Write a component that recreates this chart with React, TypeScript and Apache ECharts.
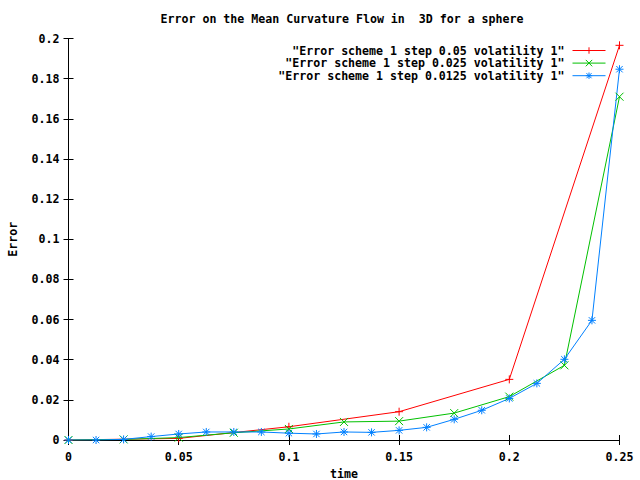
import React, { useEffect, useRef } from "react";
import * as echarts from "echarts";

const titleText = "Error on the Mean Curvature Flow in  3D for a sphere";
const seriesNames = [
  '"Error scheme 1 step 0.05 volatility 1"',
  '"Error scheme 1 step 0.025 volatility 1"',
  '"Error scheme 1 step 0.0125 volatility 1"',
];
const seriesColors = ["#ff0000", "#00c000", "#0080ff"];

const timeStep005 = [0, 0.05, 0.1, 0.15, 0.2, 0.25];
const errStep005 = [0, 0.0008, 0.0066, 0.0141, 0.0302, 0.1966];

const timeStep0025 = [0, 0.025, 0.05, 0.075, 0.1, 0.125, 0.15, 0.175, 0.2, 0.225, 0.25];
const errStep0025 = [0, 0.0003, 0.0012, 0.0036, 0.0055, 0.009, 0.0094, 0.0134, 0.0216, 0.0372, 0.171];

const timeStep00125 = [
  0, 0.0125, 0.025, 0.0375, 0.05, 0.0625, 0.075, 0.0875, 0.1, 0.1125, 0.125,
  0.1375, 0.15, 0.1625, 0.175, 0.1875, 0.2, 0.2125, 0.225, 0.2375, 0.25,
];
const errStep00125 = [
  0, 0, 0.0003, 0.0017, 0.003, 0.004, 0.004, 0.004, 0.0034, 0.003, 0.004,
  0.0038, 0.0048, 0.0063, 0.0103, 0.0148, 0.0207, 0.0282, 0.0402, 0.0596, 0.1847,
];

const xTicks = { min: 0, max: 0.25, interval: 0.05 };
const yTicks = { min: 0, max: 0.2, interval: 0.02 };

const symbols = [
  "path://M4,0V8M0,4H8",
  "path://M0,0L8,8M8,0L0,8",
  "path://M4,0V8M0,4H8M0.8,0.8L7.2,7.2M7.2,0.8L0.8,7.2",
];

const FONT = "DejaVu Sans Mono";

export default function App() {
  const ref = useRef<HTMLDivElement>(null);
  useEffect(() => {
    document.body.style.margin = "0";
    const chart = echarts.init(ref.current!, null, { renderer: "svg" });
    const xs = [timeStep005, timeStep0025, timeStep00125];
    const ys = [errStep005, errStep0025, errStep00125];
    const textStyle = { fontFamily: FONT, fontWeight: "bold" as const, fontSize: 11.6, color: "#000" };
    const axisLine = { show: true, lineStyle: { color: "#000", width: 1 } };
    const axisTick = { show: true, inside: true, length: 5, lineStyle: { color: "#000" } };
    chart.setOption({
      animation: false,
      backgroundColor: "#fff",
      title: {
        text: titleText,
        left: 342,
        top: 13,
        textAlign: "center",
        padding: 0,
        textStyle: { ...textStyle },
      },
      legend: seriesNames.map((n, i) => ({
        data: [n],
        orient: "vertical",
        align: "right",
        right: 34,
        top: 44.5 + i * 12.6,
        padding: 0,
        itemWidth: 33,
        itemHeight: 8,
        selectedMode: false,
        lineStyle: { width: 1 },
        itemStyle: { borderWidth: 1, color: "none", borderColor: seriesColors[i] },
        textStyle: { ...textStyle, padding: [0, 3, 0, 0] },
      })),
      grid: {
        left: 68.5,
        right: 20.5,
        top: 38.5,
        bottom: 40,
        containLabel: false,
        outerBoundsMode: "none",
      },
      xAxis: [
        {
          type: "value",
          ...xTicks,
          name: "time",
          nameLocation: "middle",
          nameGap: 27,
          nameTextStyle: { ...textStyle },
          axisLine,
          axisTick,
          splitLine: { show: false },
          axisLabel: { ...textStyle, margin: 11 },
        },
        {
          type: "value",
          position: "top",
          ...xTicks,
          axisLine,
          axisTick,
          splitLine: { show: false },
          axisLabel: { show: false },
        },
      ],
      yAxis: [
        {
          type: "value",
          ...yTicks,
          name: "Error",
          nameLocation: "middle",
          nameGap: 50,
          nameRotate: 90,
          nameTextStyle: { ...textStyle },
          axisLine,
          axisTick,
          splitLine: { show: false },
          axisLabel: { ...textStyle, margin: 9 },
        },
        {
          type: "value",
          position: "right",
          ...yTicks,
          axisLine,
          axisTick,
          splitLine: { show: false },
          axisLabel: { show: false },
        },
      ],
      series: seriesNames.map((n, i) => ({
        name: n,
        type: "line",
        data: xs[i].map((x, k) => [x, ys[i][k]]),
        symbol: symbols[i],
        symbolSize: 8,
        showSymbol: true,
        lineStyle: { color: seriesColors[i], width: 1 },
        itemStyle: { color: seriesColors[i], borderColor: seriesColors[i], borderWidth: 1 },
        emphasis: { disabled: true },
      })),
    });
    return () => chart.dispose();
  }, []);
  return <div ref={ref} style={{ width: 640, height: 480 }} />;
}
